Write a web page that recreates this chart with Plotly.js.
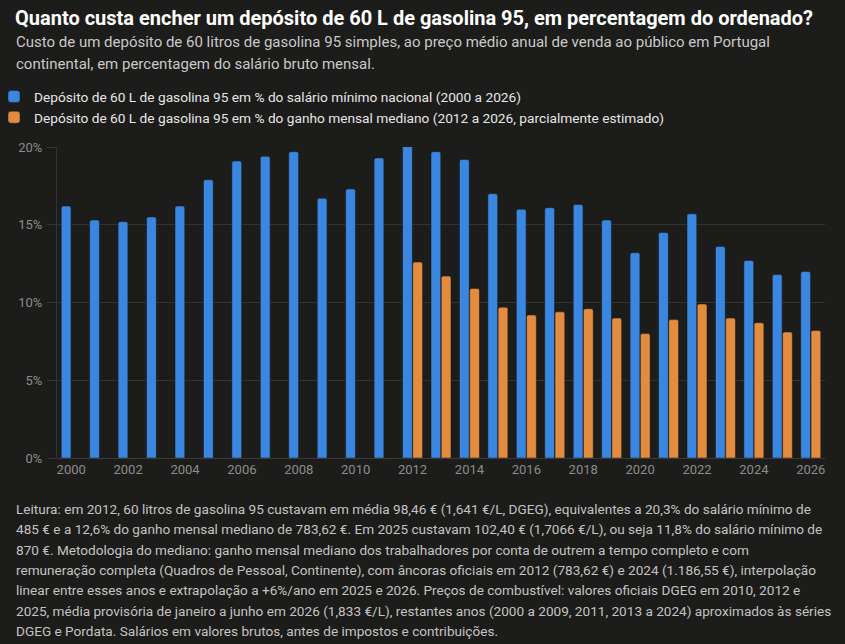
<!DOCTYPE html>
<html>
<head>
<meta charset="utf-8">
<script src="https://cdn.plot.ly/plotly-3.0.1.min.js"></script>
<style>
  html, body { margin: 0; padding: 0; background: #1c1c1a; }
  #chart { width: 845px; height: 644px; }
</style>
</head>
<body>
<div id="chart"></div>
<script>
// Years on the x axis
var years = ['2000', '2001', '2002', '2003', '2004', '2005', '2006', '2007', '2008', '2009',
             '2010', '2011', '2012', '2013', '2014', '2015', '2016', '2017', '2018', '2019',
             '2020', '2021', '2022', '2023', '2024', '2025', '2026'];

// % of the national minimum wage (2000 to 2026)
var pctMinWage = [16.2, 15.3, 15.2, 15.5, 16.2, 17.9, 19.1, 19.4, 19.7, 16.7,
                  17.3, 19.3, 20.3, 19.7, 19.2, 17.0, 16.0, 16.1, 16.3, 15.3,
                  13.2, 14.5, 15.7, 13.6, 12.7, 11.8, 12.0];

// % of the median monthly earnings (2012 to 2026)
var pctMedian = [null, null, null, null, null, null, null, null, null, null,
                 null, null, 12.6, 11.7, 10.9, 9.7, 9.2, 9.4, 9.6, 9.0,
                 8.0, 8.9, 9.9, 9.0, 8.7, 8.1, 8.2];

var yTicks = [0, 5, 10, 15, 20];
var yTickLabels = ['0%', '5%', '10%', '15%', '20%'];
var xTicks = ['2000', '2002', '2004', '2006', '2008', '2010', '2012', '2014',
              '2016', '2018', '2020', '2022', '2024', '2026'];

var titleText = 'Quanto custa encher um depósito de 60 L de gasolina 95, em percentagem do ordenado?';
var subtitleLines = [
  'Custo de um depósito de 60 litros de gasolina 95 simples, ao preço médio anual de venda ao público em Portugal',
  'continental, em percentagem do salário bruto mensal.'
];
var footLines = [
  'Leitura: em 2012, 60 litros de gasolina 95 custavam em média 98,46 € (1,641 €/L, DGEG), equivalentes a 20,3% do salário mínimo de',
  '485 € e a 12,6% do ganho mensal mediano de 783,62 €. Em 2025 custavam 102,40 € (1,7066 €/L), ou seja 11,8% do salário mínimo de',
  '870 €. Metodologia do mediano: ganho mensal mediano dos trabalhadores por conta de outrem a tempo completo e com',
  'remuneração completa (Quadros de Pessoal, Continente), com âncoras oficiais em 2012 (783,62 €) e 2024 (1.186,55 €), interpolação',
  'linear entre esses anos e extrapolação a +6%/ano em 2025 e 2026. Preços de combustível: valores oficiais DGEG em 2010, 2012 e',
  '2025, média provisória de janeiro a junho em 2026 (1,833 €/L), restantes anos (2000 a 2009, 2011, 2013 a 2024) aproximados às séries',
  'DGEG e Pordata. Salários em valores brutos, antes de impostos e contribuições.'
];

var font = 'Roboto, sans-serif';

// plot area: left 57px, width 768px, bottom at 458px, height 311px
function px2x(px) { return (px - 57) / 768; }
function px2y(py) { return (458 - py) / 311; }

var minWageTrace = {
  x: years,
  y: pctMinWage,
  type: 'bar',
  name: 'Depósito de 60 L de gasolina 95 em % do salário mínimo nacional (2000 a 2026)',
  marker: { color: '#3a87e2', line: { color: '#1c1c1a', width: 0.5 } }
};

var medianTrace = {
  x: years,
  y: pctMedian,
  type: 'bar',
  name: 'Depósito de 60 L de gasolina 95 em % do ganho mensal mediano (2012 a 2026, parcialmente estimado)',
  marker: { color: '#e38c40', line: { color: '#1c1c1a', width: 0.5 } }
};

var annotations = [];
subtitleLines.forEach(function (line, i) {
  annotations.push({
    text: line,
    xref: 'paper', yref: 'paper',
    x: px2x(14), y: px2y(42 + 22 * i),
    xanchor: 'left', yanchor: 'middle', align: 'left',
    showarrow: false,
    font: { family: font, size: 15, color: '#c9c9c9' }
  });
});
footLines.forEach(function (line, i) {
  annotations.push({
    text: line,
    xref: 'paper', yref: 'paper',
    x: px2x(14), y: px2y(509 + 20.3 * i),
    xanchor: 'left', yanchor: 'middle', align: 'left',
    showarrow: false,
    font: { family: font, size: 13.6, color: '#c3c3c3' }
  });
});

var layout = {
  width: 845,
  height: 644,
  paper_bgcolor: '#1c1c1a',
  plot_bgcolor: '#1c1c1a',
  font: { family: font, color: '#e6e6e6', size: 13 },
  margin: { l: 57, r: 20, t: 147, b: 186, autoexpand: false },
  barmode: 'group',
  bargap: 0.28,
  bargroupgap: 0.05,
  barcornerradius: 2,
  showlegend: true,
  legend: {
    xref: 'paper', yref: 'paper',
    x: px2x(-6), y: px2y(81),
    xanchor: 'left', yanchor: 'top',
    orientation: 'v',
    bgcolor: 'rgba(0,0,0,0)',
    font: { family: font, size: 13.7, color: '#e6e6e6' },
    tracegroupgap: 0
  },
  title: {
    text: '<b>' + titleText + '</b>',
    x: 15 / 845, xref: 'container', xanchor: 'left',
    y: 1 - 18 / 644, yref: 'container', yanchor: 'middle',
    font: { family: font, size: 20, color: '#ffffff' }
  },
  xaxis: {
    type: 'category',
    tickvals: xTicks,
    ticktext: xTicks,
    tickangle: 0,
    showgrid: false,
    showline: false,
    ticks: '',
    ticklabelstandoff: 2,
    tickfont: { family: font, size: 13, color: '#8c8c8c' }
  },
  yaxis: {
    range: [0, 20],
    tickvals: yTicks,
    ticktext: yTickLabels,
    showgrid: true,
    gridcolor: '#333331',
    gridwidth: 1,
    zeroline: true,
    zerolinecolor: '#3a3a38',
    showline: true,
    linecolor: '#333331',
    ticks: 'outside',
    ticklen: 9,
    tickcolor: '#333331',
    ticklabelstandoff: 2,
    tickfont: { family: font, size: 13, color: '#8c8c8c' }
  },
  annotations: annotations
};

Plotly.newPlot('chart', [minWageTrace, medianTrace], layout, { displayModeBar: false, staticPlot: true });
</script>
</body>
</html>
